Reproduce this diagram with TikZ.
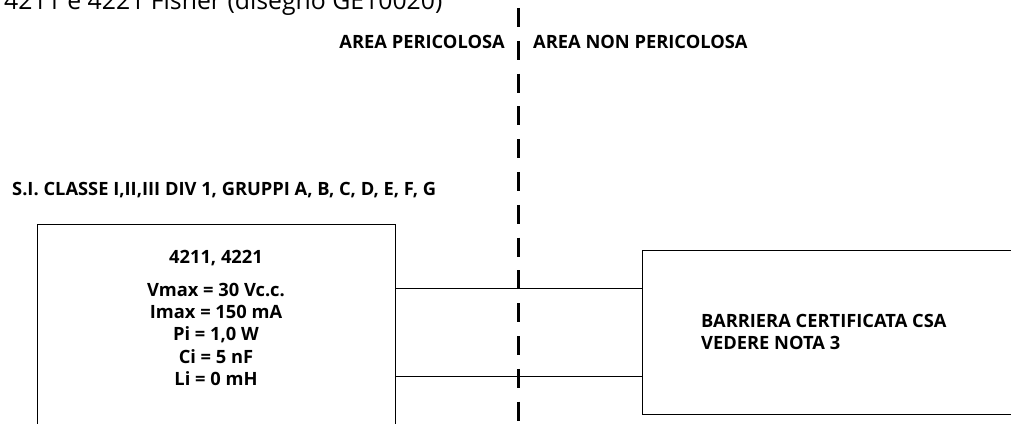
\documentclass[tikz,border=0pt]{standalone}
\usepackage{fontspec}
\setmainfont{Open Sans}
\usetikzlibrary{positioning}
\begin{document}
\begin{tikzpicture}[x=1pt,y=1pt,
		box/.style={draw,line width=1.2pt,rectangle,anchor=north west},
		wire/.style={line width=0.9pt},
		border/.style={line width=3pt,dash pattern=on 19pt off 13.8pt},
		lbl/.style={inner sep=0pt,font=\bfseries\fontsize{18.3}{22.2}\selectfont,anchor=base west},
		title/.style={inner sep=0pt,font=\fontsize{24.8}{28}\selectfont,anchor=base west}]
	\useasboundingbox (0,0) rectangle (1011,423);
	\clip (0,0) rectangle (1011,423);
	\node[title] (heading) at (4,413) {4211 e 4221 Fisher (disegno GE10020)};
	% safe area limit
	\coordinate (top) at (518,415);
	\coordinate (bottom) at (518,0);
	\draw[border] (top) -- (bottom);
	\node[lbl,anchor=base east] (danger) at (505,374) {AREA PERICOLOSA};
	\node[lbl] (safe) at (533,374) {AREA NON PERICOLOSA};
	\node[lbl] (approval) at (12,227) {S.I. CLASSE I,II,III DIV 1, GRUPPI A, B, C, D, E, F, G};
	% boxes run off the page
	\node[box,minimum width=358pt,minimum height=230pt] (device) at (37,199) {};
	\node[box,minimum width=420pt,minimum height=164pt] (barrier) at (641.5,173) {};
	\node[lbl,anchor=base] (model) at (216,159) {4211, 4221};
	\node[lbl,anchor=north,align=center] (ratings) at (216,140) {Vmax = 30 Vc.c.\\Imax = 150 mA\\Pi = 1,0 W\\Ci = 5 nF\\Li = 0 mH};
	\node[lbl,anchor=west,align=left] (barriertext) at (701,91) {BARRIERA CERTIFICATA CSA\\VEDERE NOTA 3};
	\coordinate (wireone) at (0,135);
	\coordinate (wiretwo) at (0,47);
	\draw[wire] (device.east |- wireone) -- (barrier.west |- wireone);
	\draw[wire] (device.east |- wiretwo) -- (barrier.west |- wiretwo);
\end{tikzpicture}
\end{document}
